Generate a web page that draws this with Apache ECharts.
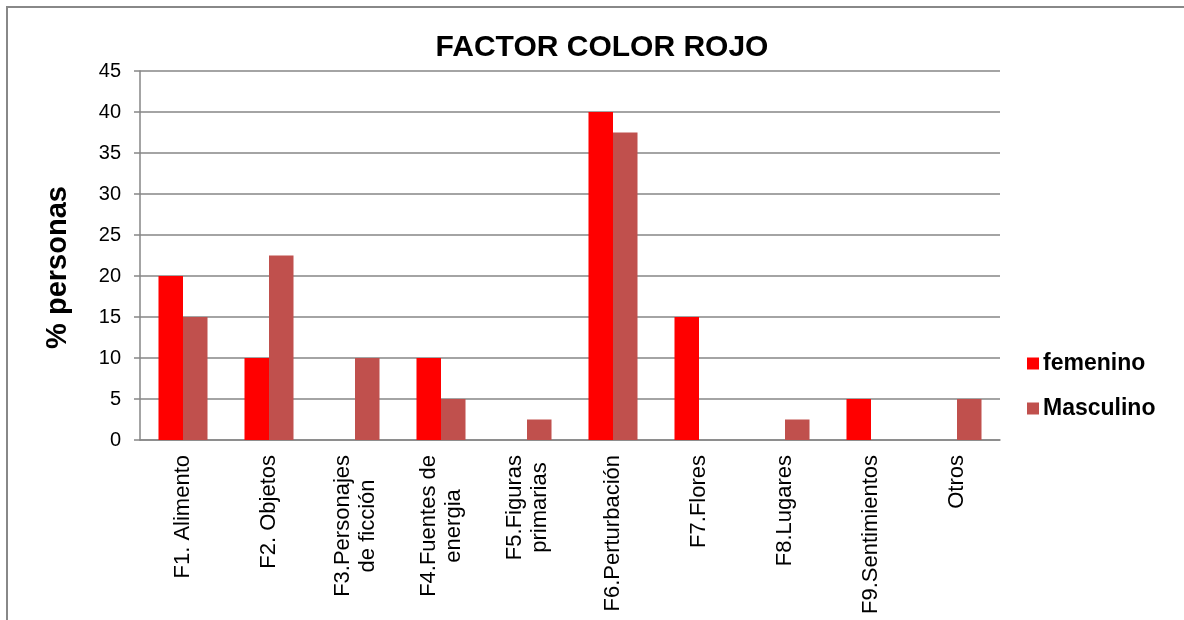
<!DOCTYPE html>
<html>
<head>
<meta charset="utf-8">
<script src="https://cdn.jsdelivr.net/npm/echarts@6/dist/echarts.min.js"></script>
<style>
html,body{margin:0;padding:0;background:#fff;overflow:hidden;}
#frame{position:absolute;left:6px;top:6px;width:1300px;height:700px;border-left:2px solid #888;border-top:2px solid #888;}
#chart{position:absolute;left:0;top:0;width:1184px;height:620px;}
</style>
</head>
<body>
<div id="frame"></div>
<div id="chart"></div>
<script>
const titleText = 'FACTOR COLOR ROJO';
const yAxisName = '% personas';
const categories = ['F1. Alimento', 'F2. Objetos', 'F3.Personajes\nde ficción', 'F4.Fuentes de\nenergia', 'F5.Figuras\nprimarias', 'F6.Perturbación', 'F7.Flores', 'F8.Lugares', 'F9.Sentimientos', 'Otros'];
const seriesNames = ['femenino', 'Masculino'];
const femenino = [20, 10, 0, 10, 0, 40, 15, 0, 5, 0];
const masculino = [15, 22.5, 10, 5, 2.5, 37.5, 0, 2.5, 0, 5];
const yTicks = [0, 5, 10, 15, 20, 25, 30, 35, 40, 45];

const FONT = '"Liberation Sans", Arial, sans-serif';
const chart = echarts.init(document.getElementById('chart'), null, {renderer: 'canvas'});
chart.setOption({
  backgroundColor: 'transparent',
  animation: false,
  title: {
    text: titleText,
    left: 597, top: 28, textAlign: 'center',
    textStyle: {fontFamily: FONT, fontSize: 30, fontWeight: 'bold', color: '#000'}
  },
  legend: {
    orient: 'vertical',
    left: 1027, top: 352, padding: 0,
    itemWidth: 12, itemHeight: 12, itemGap: 22,
    icon: 'rect',
    textStyle: {fontFamily: FONT, fontSize: 23, fontWeight: 'bold', color: '#000', padding: [0, 0, 0, -1]},
    data: seriesNames
  },
  grid: {left: 140, right: 184, top: 71, bottom: 180, containLabel: false},
  xAxis: {
    type: 'category',
    data: categories,
    axisLine: {lineStyle: {color: '#868686', width: 1.5}},
    axisTick: {show: false},
    axisLabel: {
      rotate: 90, margin: 15, interval: 0,
      fontFamily: FONT, fontSize: 22, color: '#000', lineHeight: 25,
      formatter: function (v) { return v.split('\n').map(s => '{c|' + s + '}').join('\n'); },
      rich: {c: {align: 'center', fontFamily: FONT, fontSize: 22, color: '#000', lineHeight: 25}}
    }
  },
  yAxis: {
    type: 'value',
    min: 0, max: 45, interval: 5,
    name: yAxisName,
    nameLocation: 'middle',
    nameGap: 68,
    nameTextStyle: {fontFamily: FONT, fontSize: 29, fontWeight: 'bold', color: '#000', padding: [0, 24, 0, 0]},
    axisLine: {show: true, lineStyle: {color: '#868686', width: 1.5}},
    axisTick: {show: true, length: 6, lineStyle: {color: '#868686', width: 1.5}},
    splitLine: {lineStyle: {color: '#868686', width: 1.5}},
    axisLabel: {
      margin: 19, fontFamily: FONT, fontSize: 20, color: '#000',
      formatter: function (v) { return yTicks.indexOf(v) >= 0 ? String(v) : ''; }
    }
  },
  series: [
    {name: seriesNames[0], type: 'bar', data: femenino, barGap: '0%', barCategoryGap: '43%',
     itemStyle: {color: '#FF0000'}},
    {name: seriesNames[1], type: 'bar', data: masculino, barGap: '0%', barCategoryGap: '43%',
     itemStyle: {color: '#C0504D'}}
  ]
});
</script>
</body>
</html>
